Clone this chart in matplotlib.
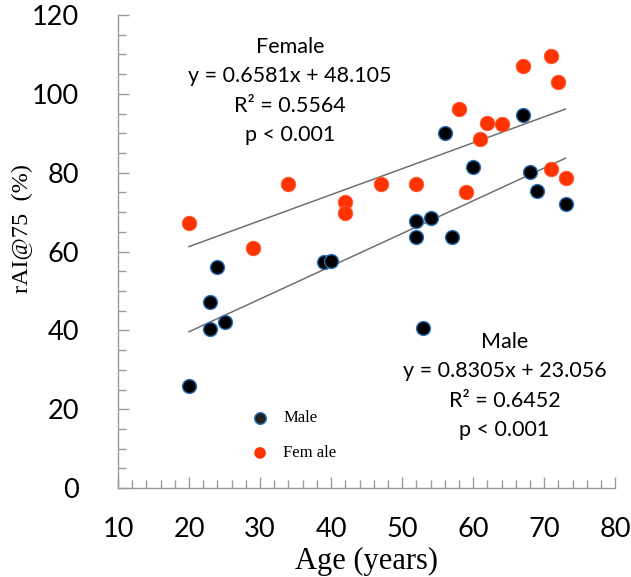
import numpy as np
import matplotlib.pyplot as plt
from matplotlib.ticker import MultipleLocator

# data
male_age = [20, 23, 23, 24, 25, 39, 40, 52, 52, 53, 54, 56, 57, 60, 67, 68, 69, 73]
male_rai = [25.9, 40.3, 47.2, 56.1, 42.1, 57.4, 57.6, 67.7, 63.7, 40.6, 68.5, 90.1, 63.7, 81.4, 94.6, 80.2, 75.3, 72.0]

female_age = [20, 29, 34, 42, 42, 47, 52, 58, 59, 61, 62, 64, 67, 71, 71, 72, 73]
female_rai = [67.2, 60.9, 77.1, 72.5, 69.7, 77.1, 77.1, 96.1, 75.0, 88.6, 92.6, 92.3, 107.0, 109.6, 80.9, 103.0, 78.7]

male_fit = (0.8305, 23.056)
female_fit = (0.6581, 48.105)

male_col = "black"
female_col = "#ff3300"
edge_col = "#2a6fb5"

fig = plt.figure(figsize=(6.31, 5.77), dpi=100)
ax = fig.add_axes([0.187, 0.154, 0.788, 0.82])

# trend lines
for ages, fit in [(female_age, female_fit), (male_age, male_fit)]:
    xs = np.array([min(ages), max(ages)])
    ax.plot(xs, fit[0] * xs + fit[1], color="#707070", linewidth=1.1, zorder=2)

ax.scatter(female_age, female_rai, s=110, color=female_col, edgecolors="#ff5a3a", linewidths=0.6, zorder=3)
ax.scatter(male_age, male_rai, s=100, color=male_col, edgecolors=edge_col, linewidths=1.0, zorder=3)

ax.set_xlim(10, 80)
ax.set_ylim(0, 120)
ax.xaxis.set_major_locator(MultipleLocator(10))
ax.xaxis.set_minor_locator(MultipleLocator(2))
ax.yaxis.set_major_locator(MultipleLocator(20))
ax.yaxis.set_minor_locator(MultipleLocator(5))

for s in ["top", "right"]:
    ax.spines[s].set_visible(False)
for s in ["left", "bottom"]:
    ax.spines[s].set_color("#9a9a9a")
    ax.spines[s].set_linewidth(1.0)

ax.tick_params(which="major", direction="in", length=8, color="#9a9a9a", width=1.0,
               labelsize=19.5)
ax.tick_params(which="minor", direction="in", length=6, color="#9a9a9a", width=1.0)
for lab in ax.get_xticklabels() + ax.get_yticklabels():
    lab.set_fontfamily("Lato")
ax.tick_params(axis="x", pad=21)
ax.tick_params(axis="y", pad=28)

ax.set_xlabel("Age (years)", family="Liberation Serif", fontsize=22, labelpad=3)
ax.set_ylabel("rAI@75  (%)", family="Liberation Serif", fontsize=17.5)
ax.yaxis.set_label_coords(-0.171, 0.548)

# fit annotations
fem_txt = "Female\ny = %.4fx + %.3f\nR² = 0.5564\np < 0.001" % female_fit
male_txt = "Male\ny = %.4fx + %.3f\nR² = 0.6452\np < 0.001" % male_fit
ax.text(34.2, 114.5, fem_txt, family="Lato", fontsize=15.5, ha="center", va="top", linespacing=1.6)
ax.text(64.4, 39.6, male_txt, family="Lato", fontsize=15.5, ha="center", va="top", linespacing=1.58)

# legend
ax.scatter([], [], s=70, color="#222222", edgecolors=edge_col, linewidths=1.0, label="Male")
ax.scatter([], [], s=70, color=female_col, edgecolors="none", label="Fem ale")
h, l = ax.get_legend_handles_labels()
ax.legend(h[-2:], l[-2:], loc="lower left", bbox_to_anchor=(0.222, 0.025), frameon=False,
          prop={"family": "Liberation Serif", "size": 12}, handletextpad=0.4,
          labelspacing=1.15, scatterpoints=1)

fig.savefig("out.png", dpi=100)
